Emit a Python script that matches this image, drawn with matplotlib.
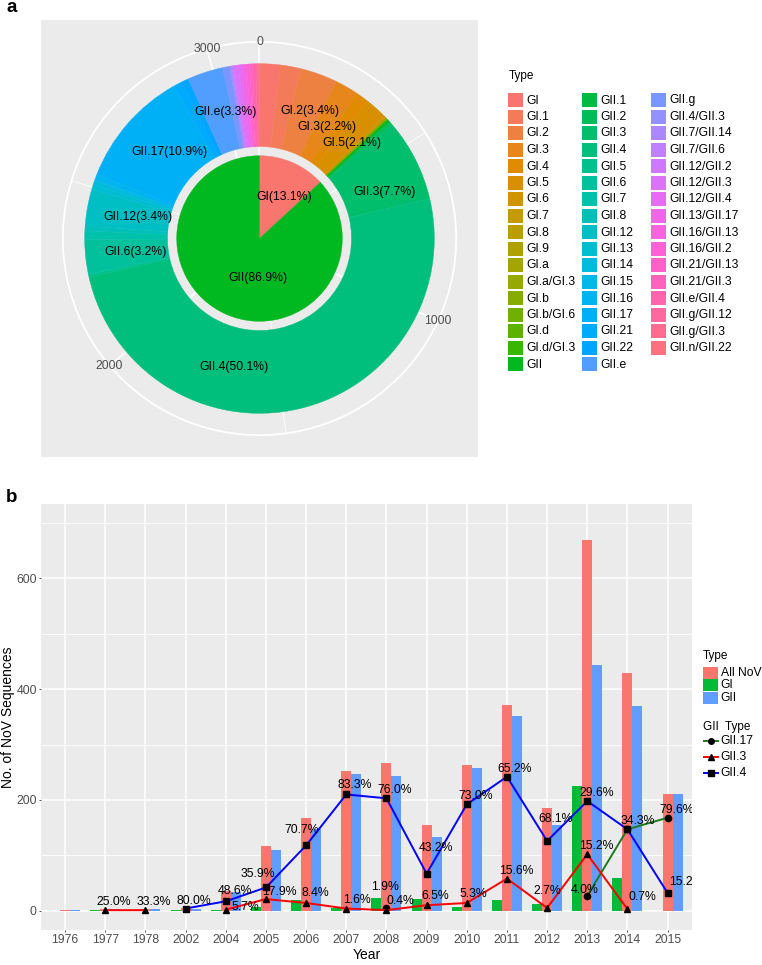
import numpy as np
import matplotlib
matplotlib.use('Agg')
import matplotlib.pyplot as plt
from matplotlib.ticker import FixedLocator
from matplotlib.patches import Rectangle
import matplotlib.transforms as mtransforms

plt.rcParams['font.family'] = ['Liberation Sans', 'DejaVu Sans']

# ------------------------------------------------------------------ data (panel a)
ring_types = ['GI', 'GI.1', 'GI.2', 'GI.3', 'GI.4', 'GI.5', 'GI.6', 'GI.7', 'GI.8', 'GI.9',
              'GI.a', 'GI.a/GI.3', 'GI.b', 'GI.b/GI.6', 'GI.d', 'GI.d/GI.3', 'GII',
              'GII.1', 'GII.2', 'GII.3', 'GII.4', 'GII.5', 'GII.6', 'GII.7', 'GII.8', 'GII.12',
              'GII.13', 'GII.14', 'GII.15', 'GII.16', 'GII.17', 'GII.21', 'GII.22', 'GII.e',
              'GII.g', 'GII.4/GII.3', 'GII.7/GII.14', 'GII.7/GII.6', 'GII.12/GII.2', 'GII.12/GII.3',
              'GII.12/GII.4', 'GII.13/GII.17', 'GII.16/GII.13', 'GII.16/GII.2', 'GII.21/GII.13',
              'GII.21/GII.3', 'GII.e/GII.4', 'GII.g/GII.12', 'GII.g/GII.3', 'GII.n/GII.22']
ring_counts = [60, 60, 107, 69, 35, 66, 3, 2, 2, 1,
               1, 1, 2, 1, 1, 1, 6,
               3, 7, 241, 1571, 8, 100, 25, 14, 107,
               14, 12, 3, 15, 342, 25, 21, 103,
               20, 3, 3, 4, 5, 10,
               10, 8, 6, 8, 4,
               5, 10, 5, 3, 2]
inner_types = ['GI', 'GII']
inner_counts = [412, 2723]

ring_label_text = ['GI.2(3.4%)', 'GI.3(2.2%)', 'GI.5(2.1%)', 'GII.3(7.7%)', 'GII.4(50.1%)',
                   'GII.6(3.2%)', 'GII.12(3.4%)', 'GII.17(10.9%)', 'GII.e(3.3%)']
inner_label_text = ['GI(13.1%)', 'GII(86.9%)']
pie_major = [0, 1000, 2000, 3000]
pie_minor = [500, 1500, 2500]

# ------------------------------------------------------------------ data (panel b)
years = ['1976', '1977', '1978', '2002', '2004', '2005', '2006', '2007',
         '2008', '2009', '2010', '2011', '2012', '2013', '2014', '2015']
all_nov = [1, 4, 3, 5, 35, 117, 167, 252, 267, 155, 263, 371, 185, 669, 429, 211]
gi_counts = [0, 1, 0, 1, 2, 7, 19, 5, 23, 21, 6, 20, 13, 225, 60, 0]
gii_counts = [1, 3, 3, 4, 33, 110, 148, 247, 244, 133, 257, 351, 155, 443, 370, 211]
nan = np.nan
gii4 = [nan, nan, nan, 4, 17, 42, 118, 210, 203, 67, 192, 242, 126, 198, 147, 32]
gii3 = [nan, 1, 1, nan, 2, 21, 14, 4, 1, 10, 14, 58, 5, 102, 3, nan]
gii17 = [nan, nan, nan, nan, nan, nan, nan, nan, 5, nan, nan, nan, nan, 27, 147, 168]
gii4_lab = ['', '', '', '80.0%', '48.6%', '35.9%', '70.7%', '83.3%', '76.0%', '43.2%',
            '73.0%', '65.2%', '68.1%', '29.6%', '34.3%', '15.2%']
gii3_lab = ['', '25.0%', '33.3%', '', '5.7%', '17.9%', '8.4%', '1.6%', '0.4%', '6.5%',
            '5.3%', '15.6%', '2.7%', '15.2%', '0.7%', '']
gii17_lab = ['', '', '', '', '', '', '', '', '1.9%', '', '', '', '', '4.0%', '', '79.6%']

# ------------------------------------------------------------------ styling / placement
ring_label_deg = [21.6, 31.1, 43.9, 69.7, 191.1, 263.9, 280.2, 313.8, 345.2]
ring_label_rpx = [137.4, 130.0, 133.0, 133.8, 130.7, 124.2, 123.1, 125.4, 131.1]
inner_label_deg = [30.7, 182.6]
inner_label_rpx = [48.6, 39.8]
# label offsets in pixels (dx right, dy down)
gii4_off = [(0, 0)] * 3 + [(8, -8), (9, -10), (-8, -13), (-4, -15), (8, -9), (8, -8), (9, -26),
                           (9, -8), (8, -8), (9, -22), (9, -8), (10, -8), (19, -11)]
gii3_off = [(0, 0), (8, -8), (8, -8), (0, 0), (20, -3), (14, -7), (9, -10), (11, -9), (14, -9),
            (9, -9), (7, -9), (9, -8), (0, -17), (9, -8), (15, -12), (0, 0)]
gii17_off = [(0, 0)] * 8 + [(-1, -21)] + [(0, 0)] * 4 + [(-3, -6), (10, -8), (9, -8)]


def hcl(h, c=100.0, l=65.0):
    hr = np.deg2rad(h)
    U, V = c * np.cos(hr), c * np.sin(hr)
    Xn, Yn, Zn = 95.047, 100.0, 108.883
    Y = Yn * ((l + 16) / 116) ** 3
    den = Xn + 15 * Yn + 3 * Zn
    un, vn = 4 * Xn / den, 9 * Yn / den
    u = U / (13 * l) + un
    v = V / (13 * l) + vn
    X = 9.0 * Y * u / (4 * v)
    Z = -X / 3 - 5 * Y + 3 * Y / v
    X, Y, Z = X / 100, Y / 100, Z / 100
    r = 3.240479 * X - 1.537150 * Y - 0.498535 * Z
    g = -0.969256 * X + 1.875992 * Y + 0.041556 * Z
    b = 0.055648 * X - 0.204043 * Y + 1.057311 * Z

    def gam(t):
        t = np.where(t <= 0.0031308, 12.92 * t, 1.055 * np.abs(t) ** (1 / 2.4) - 0.055)
        return float(np.clip(t, 0, 1))
    return (gam(r), gam(g), gam(b))


n = len(ring_types)
palette = [hcl(15 + i * 360.0 / n) for i in range(n)]
ring_colors = palette
inner_colors = [palette[ring_types.index(t)] for t in inner_types]

W, H = 762, 965
fig = plt.figure(figsize=(W / 100, H / 100), dpi=100)


def rect(x0, y0, x1, y1):
    return [x0 / W, 1 - y1 / H, (x1 - x0) / W, (y1 - y0) / H]


TXT = '#4D4D4D'
BG = '#EBEBEB'

# ------------------------------------------------------------------ panel a
ax_bg = fig.add_axes(rect(41, 20, 478, 457))
ax_bg.set_facecolor(BG)
ax_bg.set_xticks([])
ax_bg.set_yticks([])
for s in ax_bg.spines.values():
    s.set_visible(False)

cx, cy = 259.5, 238.5
R = 0.45 * 437
ax_p = fig.add_axes(rect(cx - R, cy - R, cx + R, cy + R), projection='polar')
ax_p.set_theta_zero_location('N')
ax_p.set_theta_direction(-1)
ax_p.set_facecolor(BG)
r_lo, r_hi = 0.55, 0.55 + 1.9 * 0.45 / 0.4
ax_p.set_ylim(r_lo, r_hi)
total = float(sum(ring_counts))


def to_rad(v):
    return np.asarray(v, dtype=float) * 2 * np.pi / total


def px_to_r(p):
    return r_lo + np.asarray(p, dtype=float) / R * (r_hi - r_lo)


ax_p.set_xticks(to_rad(pie_major))
ax_p.set_xticklabels([])
ax_p.xaxis.set_minor_locator(FixedLocator(to_rad(pie_minor)))
ax_p.set_yticks([1, 2])
ax_p.set_yticklabels([])
ax_p.grid(True, which='major', color='white', lw=1.2)
ax_p.xaxis.grid(True, which='minor', color='white', lw=0.6)
ax_p.tick_params(length=0, which='both')
ax_p.spines['polar'].set_color('white')
ax_p.spines['polar'].set_linewidth(1.3)
ax_p.set_axisbelow(True)

starts = np.concatenate([[0], np.cumsum(ring_counts)[:-1]])
ax_p.bar(to_rad(starts), 0.9, width=to_rad(ring_counts), bottom=1.55, align='edge',
         color=ring_colors, edgecolor=ring_colors, linewidth=0.3, zorder=2)
istarts = np.concatenate([[0], np.cumsum(inner_counts)[:-1]])
ax_p.bar(to_rad(istarts), 0.9, width=to_rad(inner_counts), bottom=0.55, align='edge',
         color=inner_colors, edgecolor=inner_colors, linewidth=0.3, zorder=2)

for t, d, rp in zip(ring_label_text, ring_label_deg, ring_label_rpx):
    ax_p.text(np.deg2rad(d), px_to_r(rp), t, ha='center', va='center', fontsize=8.8, zorder=5)
for t, d, rp in zip(inner_label_text, inner_label_deg, inner_label_rpx):
    ax_p.text(np.deg2rad(d), px_to_r(rp), t, ha='center', va='center', fontsize=8.8, zorder=5)
for v in pie_major:
    ax_p.text(to_rad(v), r_hi, str(v), ha='center', va='center', fontsize=8.8,
              color=TXT, clip_on=False, zorder=6)

# ------------------------------------------------------------------ panel b
ax_b = fig.add_axes(rect(41, 504, 691.7, 930))
x = np.arange(len(years))
ax_b.set_facecolor(BG)
ax_b.set_xlim(-0.6, len(years) - 1 + 0.6)
ax_b.set_ylim(-34.8, 734.5)
for s in ax_b.spines.values():
    s.set_visible(False)
ax_b.set_xticks(x)
ax_b.set_xticklabels(years)
ax_b.set_yticks([0, 200, 400, 600])
ax_b.yaxis.set_minor_locator(FixedLocator([100, 300, 500, 700]))
ax_b.tick_params(axis='both', which='major', length=1.5, width=0.6, color='#333333',
                 labelcolor=TXT, labelsize=8.8, pad=1.5)
ax_b.tick_params(axis='y', which='minor', length=0)
ax_b.grid(True, which='major', color='white', lw=1.1)
ax_b.grid(True, which='minor', axis='y', color='white', lw=0.6)
ax_b.set_axisbelow(True)

C_ALL, C_GI, C_GII = '#F8766D', '#00BA38', '#619CFF'
bw = 0.25
ax_b.bar(x - bw, gi_counts, bw, color=C_GI, zorder=2)
ax_b.bar(x, all_nov, bw, color=C_ALL, zorder=2)
ax_b.bar(x + bw, gii_counts, bw, color=C_GII, zorder=2)

C17, C3, C4 = '#1E7A1E', '#FF0000', '#0000FF'
ax_b.plot(x, gii17, color=C17, lw=1.4, marker='o', ms=4.5, mfc='black', mec='black', zorder=4)
ax_b.plot(x, gii3, color=C3, lw=1.4, marker='^', ms=5, mfc='black', mec='black', zorder=4)
ax_b.plot(x, gii4, color=C4, lw=1.4, marker='s', ms=4.3, mfc='black', mec='black', zorder=4)

for vals, labs, offs in [(gii4, gii4_lab, gii4_off), (gii3, gii3_lab, gii3_off),
                         (gii17, gii17_lab, gii17_off)]:
    for i, (v, lab, off) in enumerate(zip(vals, labs, offs)):
        if lab and not np.isnan(v):
            tr = mtransforms.offset_copy(ax_b.transData, fig=fig, x=off[0], y=-off[1], units='dots')
            ax_b.text(x[i], v, lab, transform=tr, ha='center', va='center', fontsize=8.8,
                      color='black', clip_on=True, zorder=6)

fig.text(366.3 / W, 1 - 955 / H, 'Year', ha='center', va='center', fontsize=10)
fig.text(8 / W, 1 - 717 / H, 'No. of NoV Sequences', ha='center', va='center',
         rotation=90, fontsize=10)

# ------------------------------------------------------------------ overlay (legends, panel tags)
ov = fig.add_axes([0, 0, 1, 1], zorder=10)
ov.set_xlim(0, W)
ov.set_ylim(H, 0)
ov.axis('off')
ov.patch.set_alpha(0)

ov.text(12, 12.5, 'a', fontsize=13.5, fontweight='bold', ha='center', va='baseline')
ov.text(12, 502, 'b', fontsize=13.5, fontweight='bold', ha='center', va='baseline')

# panel a legend
ov.text(508.3, 76, 'Type', fontsize=8.5, ha='left', va='center')
col_x = [508.3, 581.7, 651.0]
rows = 17
for k, (t, c) in enumerate(zip(ring_types, ring_colors)):
    col, row = divmod(k, rows)
    top = 93.3 + 16.5 * row
    ov.add_patch(Rectangle((col_x[col], top), 15, 14, facecolor=c, edgecolor='none'))
    ov.text(col_x[col] + 18.3, top + 7.2, t, fontsize=8.7, ha='left', va='center')

# panel b legend
ov.text(703, 655.7, 'Type', fontsize=8.5, ha='left', va='center')
for k, (t, c) in enumerate(zip(['All NoV', 'GI', 'GII'], [C_ALL, C_GI, C_GII])):
    top = 667 + 12.4 * k
    ov.add_patch(Rectangle((703, top), 15, 11.7, facecolor=c, edgecolor='none'))
    ov.text(720.7, top + 6, t, fontsize=8.7, ha='left', va='center')
ov.text(703, 727.3, 'GII  Type', fontsize=8.5, ha='left', va='center')
for k, (t, c, m, ms) in enumerate(zip(['GII.17', 'GII.3', 'GII.4'], [C17, C3, C4],
                                      ['o', '^', 's'], [4.0, 4.5, 3.8])):
    yy = 740.7 + 16.3 * k
    ov.plot([703.5, 717.5], [yy, yy], color=c, lw=1.4)
    ov.plot([710.5], [yy], marker=m, ms=ms, color='black')
    ov.text(720.7, yy, t, fontsize=8.7, ha='left', va='center')

fig.savefig('out.png', dpi=100)
